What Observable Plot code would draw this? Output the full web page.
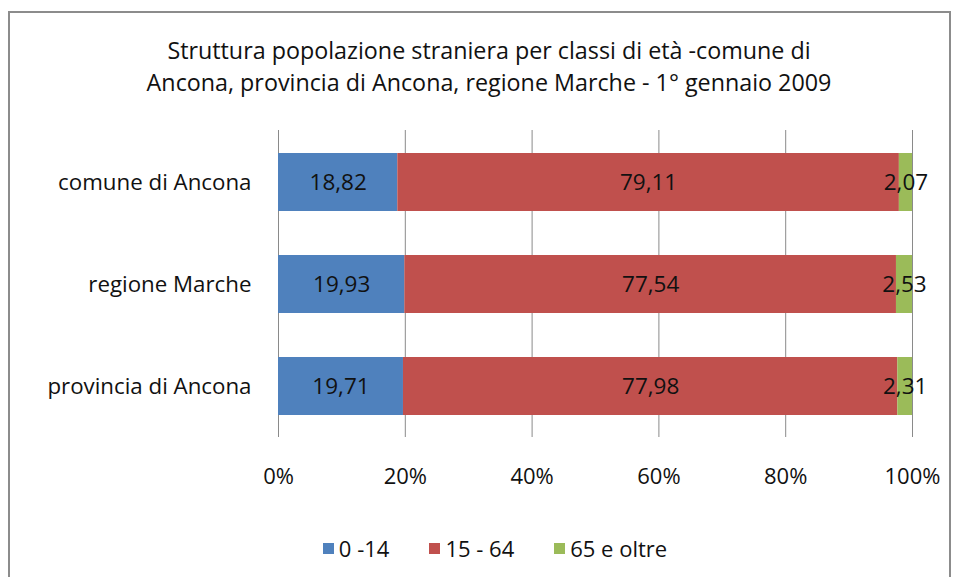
<!DOCTYPE html>
<html>
<head>
<meta charset="utf-8">
<script src="https://cdn.jsdelivr.net/npm/d3@7"></script>
<script src="https://cdn.jsdelivr.net/npm/@observablehq/plot@0.6"></script>
<style>
  html, body { margin: 0; padding: 0; background: #fff; }
  body { width: 957px; height: 577px; position: relative; overflow: hidden; font-family: "Open Sans", sans-serif; }
  #frame { position: absolute; left: 8px; top: 11px; width: 943px; height: 600px; border: 2px solid #8c8c8c; box-sizing: border-box; }
  #title { position: absolute; left: 0; top: 34px; width: 978px; text-align: center; font-size: 23.3px; line-height: 32px; color: #111; }
  #chart { position: absolute; left: 0; top: 110px; }
  #legend { position: absolute; left: 0; top: 533px; width: 990px; display: flex; justify-content: center; gap: 40px; font-size: 22px; color: #111; }
  .item { display: flex; align-items: center; gap: 5px; }
  .sw { width: 11px; height: 11px; display: inline-block; }
</style>
</head>
<body>
<div id="frame"></div>
<div id="title">Struttura popolazione straniera per classi di età -comune di<br>Ancona, provincia di Ancona, regione Marche - 1° gennaio 2009</div>
<div id="chart"></div>
<div id="legend"></div>
<script>
const categories = ["comune di Ancona", "regione Marche", "provincia di Ancona"];
const series = ["0 -14", "15 - 64", "65 e oltre"];
const v0_14 = [18.82, 19.93, 19.71];
const v15_64 = [79.11, 77.54, 77.98];
const v65 = [2.07, 2.53, 2.31];
const colors = ["#4F81BD", "#C0504D", "#9BBB59"];
const xTicks = [0, 20, 40, 60, 80, 100];

const seriesValues = [v0_14, v15_64, v65];
const data = [];
categories.forEach((c, i) => {
  series.forEach((s, j) => data.push({category: c, series: s, value: seriesValues[j][i]}));
});
const fmt = v => v.toFixed(2).replace(".", ",");

const plot = Plot.plot({
  width: 957,
  height: 410,
  marginLeft: 278,
  marginRight: 45,
  marginTop: 20,
  marginBottom: 83,
  style: {fontFamily: "'Open Sans', sans-serif", background: "transparent"},
  x: {domain: [0, 100], ticks: xTicks},
  y: {domain: categories, paddingInner: 0.433, paddingOuter: 0.217},
  color: {domain: series, range: colors},
  marks: [
    Plot.ruleX(xTicks, {stroke: "#8a8a8a", strokeWidth: 1}),
    Plot.barX(data, Plot.stackX({x: "value", y: "category", fill: "series"})),
    Plot.text(data, Plot.stackX({x: "value", y: "category", text: d => fmt(d.value), fontSize: 22.5, fill: "#111"})),
    Plot.axisX({ticks: xTicks, tickSize: 0, tickPadding: 31, fontSize: 22, tickFormat: d => d + "%", label: null, fill: "#111"}),
    Plot.axisY({tickSize: 0, tickPadding: 27, fontSize: 22.3, label: null, fill: "#111"})
  ]
});
document.getElementById("chart").appendChild(plot);

const legend = document.getElementById("legend");
series.forEach((s, j) => {
  const item = document.createElement("div");
  item.className = "item";
  const sw = document.createElement("span");
  sw.className = "sw";
  sw.style.background = colors[j];
  const t = document.createElement("span");
  t.textContent = s;
  item.appendChild(sw);
  item.appendChild(t);
  legend.appendChild(item);
});
</script>
</body>
</html>
